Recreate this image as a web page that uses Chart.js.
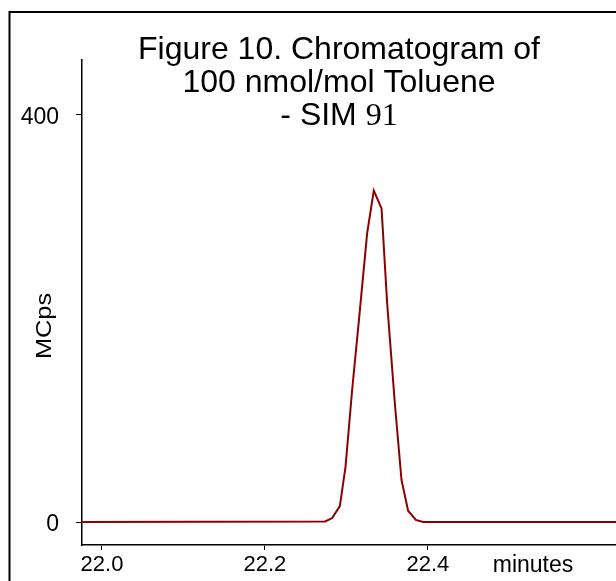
<!DOCTYPE html>
<html>
<head>
<meta charset="utf-8">
<script src="https://cdn.jsdelivr.net/npm/chart.js@4/dist/chart.umd.min.js"></script>
<style>
  html, body { margin: 0; padding: 0; background: #ffffff; }
  #wrap { width: 616px; height: 581px; position: relative; }
</style>
</head>
<body>
<div id="wrap"><canvas id="c" width="616" height="581"></canvas></div>
<script>
// ---- data ----
const timeMinutes = [21.9755, 22.2740, 22.2826, 22.2920, 22.2990, 22.3071, 22.3166, 22.3255, 22.3337, 22.3432, 22.3501, 22.3595, 22.3677, 22.3758, 22.3853, 22.3942, 22.6310];
const signalMCps  = [0, 0.5, 3.9, 15.7, 54.4, 129.7, 208.0, 283.7, 325.6, 308.2, 214.9, 116.7, 41.3, 11.1, 2.0, 0, 0];
const xTickValues = [22.0, 22.2, 22.4];
const yTickValues = [0, 400];
const titleLines = ["Figure 10. Chromatogram of", "100 nmol/mol Toluene", "- SIM "];
const titleTail = "91";
const yAxisTitle = "MCps";
const xAxisTitle = "minutes";

const points = timeMinutes.map((t, i) => ({ x: t, y: signalMCps[i] }));

const overlay = {
  id: 'overlay',
  afterDraw(chart) {
    const ctx = chart.ctx;
    ctx.save();
    // outer frame
    ctx.strokeStyle = '#000';
    ctx.lineWidth = 2;
    ctx.beginPath();
    ctx.moveTo(9.5, 581);
    ctx.lineTo(9.5, 12);
    ctx.lineTo(616, 12);
    ctx.stroke();

    // title
    ctx.fillStyle = '#000';
    ctx.textBaseline = 'alphabetic';
    const sansTitle = '32px "Liberation Sans", Arial, sans-serif';
    const serifTitle = '32px "Liberation Serif", "Times New Roman", serif';
    const cx = 339;
    const baselines = [59, 92, 125];
    ctx.font = sansTitle;
    ctx.textAlign = 'center';
    ctx.fillText(titleLines[0], cx, baselines[0]);
    ctx.fillText(titleLines[1], cx, baselines[1]);
    // third line: sans + serif tail
    ctx.textAlign = 'left';
    const w1 = ctx.measureText(titleLines[2]).width;
    ctx.font = serifTitle;
    const w2 = ctx.measureText(titleTail).width;
    const start = cx - (w1 + w2) / 2;
    ctx.font = sansTitle;
    ctx.fillText(titleLines[2], start, baselines[2]);
    ctx.font = serifTitle;
    ctx.fillText(titleTail, start + w1, baselines[2]);

    // y axis title (rotated)
    ctx.font = '22px "Liberation Sans", Arial, sans-serif';
    ctx.translate(51, 326);
    ctx.rotate(-Math.PI / 2);
    ctx.scale(1.15, 1);
    ctx.textAlign = 'center';
    ctx.fillText(yAxisTitle, 0, 0);
    ctx.restore();

    // x axis title
    ctx.save();
    ctx.fillStyle = '#000';
    ctx.font = '23px "Liberation Sans", Arial, sans-serif';
    ctx.textAlign = 'center';
    ctx.textBaseline = 'alphabetic';
    ctx.fillText(xAxisTitle, 533, 572);
    ctx.restore();
  }
};

new Chart(document.getElementById('c'), {
  type: 'line',
  data: {
    datasets: [{
      data: points,
      borderColor: '#8b0000',
      borderWidth: 2,
      pointRadius: 0,
      tension: 0,
      fill: false
    }]
  },
  options: {
    responsive: false,
    animation: false,
    devicePixelRatio: 1,
    layout: { padding: { left: 0, right: 0, top: 60, bottom: 0 } },
    plugins: {
      legend: { display: false },
      tooltip: { enabled: false },
      title: { display: false }
    },
    scales: {
      x: {
        type: 'linear',
        min: 21.9755,
        max: 22.631,
        afterBuildTicks: (s) => { s.ticks = xTickValues.map(v => ({ value: v })); },
        afterFit: (s) => { s.height = 36; },
        grid: { drawOnChartArea: false, drawTicks: true, tickLength: 5, color: '#000', tickWidth: 1 },
        border: { display: true, color: '#000', width: 1.5 },
        ticks: {
          color: '#000',
          font: { family: '"Liberation Sans", Arial, sans-serif', size: 22 },
          padding: 2,
          maxRotation: 0,
          autoSkip: false,
          callback: (v) => Number(v).toFixed(1)
        }
      },
      y: {
        min: -22.6,
        max: 454,
        afterBuildTicks: (s) => { s.ticks = yTickValues.map(v => ({ value: v })); },
        afterFit: (s) => { s.width = 82; },
        grid: { drawOnChartArea: false, drawTicks: true, tickLength: 6, color: '#000', tickWidth: 1 },
        border: { display: true, color: '#000', width: 1.5 },
        ticks: {
          color: '#000',
          font: { family: '"Liberation Sans", Arial, sans-serif', size: 23 },
          padding: 17,
          labelOffset: 3,
          autoSkip: false,
          callback: (v) => String(v)
        }
      }
    }
  },
  plugins: [overlay]
});
</script>
</body>
</html>
